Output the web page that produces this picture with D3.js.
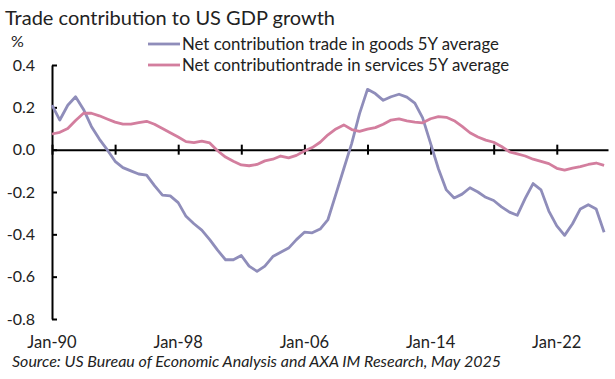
<!DOCTYPE html>
<html>
<head>
<meta charset="utf-8">
<script src="https://cdn.jsdelivr.net/npm/d3@7"></script>
<style>
  body { margin: 0; background: #fff; }
  svg { font-family: Lato, "Open Sans", sans-serif; }
</style>
</head>
<body>
<div id="chart"></div>
<script>
// half-yearly points, Jan-90 .. Jan-25
const startDate = new Date(1990, 0, 1);
const endDate = new Date(2025, 0, 1);

const goods = [
  0.21, 0.14, 0.21, 0.25, 0.19, 0.11, 0.05, 0.00, -0.055, -0.085,
  -0.10, -0.115, -0.12, -0.17, -0.215, -0.218, -0.25, -0.315, -0.35, -0.38,
  -0.425, -0.475, -0.52, -0.52, -0.50, -0.55, -0.575, -0.55, -0.505, -0.485,
  -0.465, -0.425, -0.39, -0.393, -0.375, -0.33, -0.21, -0.09, 0.03, 0.17,
  0.285, 0.265, 0.233, 0.25, 0.262, 0.248, 0.22, 0.15, 0.03, -0.09,
  -0.19, -0.228, -0.21, -0.18, -0.20, -0.225, -0.24, -0.27, -0.295, -0.31,
  -0.23, -0.16, -0.19, -0.29, -0.36, -0.405, -0.35, -0.28, -0.26, -0.28,
  -0.39
];

const services = [
  0.074, 0.082, 0.10, 0.138, 0.172, 0.172, 0.16, 0.145, 0.13, 0.121,
  0.121, 0.128, 0.134, 0.12, 0.10, 0.08, 0.06, 0.038, 0.033, 0.04,
  0.032, -0.005, -0.035, -0.055, -0.072, -0.076, -0.07, -0.053, -0.045, -0.03,
  -0.039, -0.027, -0.006, 0.01, 0.035, 0.07, 0.098, 0.117, 0.095, 0.086,
  0.097, 0.104, 0.12, 0.14, 0.145, 0.136, 0.13, 0.127, 0.146, 0.156,
  0.153, 0.137, 0.11, 0.08, 0.06, 0.045, 0.035, 0.015, -0.01, -0.02,
  -0.03, -0.045, -0.055, -0.066, -0.088, -0.097, -0.087, -0.08, -0.07, -0.063,
  -0.074
];

const seriesNames = [
  "Net contribution trade in goods 5Y average",
  "Net contributiontrade in services 5Y average"
];
const seriesColors = ["#8f8dba", "#d37e9e"];

const yTicks = [0.4, 0.2, 0.0, -0.2, -0.4, -0.6, -0.8];
const tickYears = [1990, 1994, 1998, 2002, 2006, 2010, 2014, 2018, 2022];
const labelYears = [1990, 1998, 2006, 2014, 2022];

const dates = d3.timeMonth.every(6).range(startDate, d3.timeMonth.offset(endDate, 1));

const width = 615, height = 379;
const svg = d3.select("#chart").append("svg")
  .attr("width", width).attr("height", height);

const x = d3.scaleTime()
  .domain([startDate, new Date(2025, 3, 1)])
  .range([52, 608]);
const y = d3.scaleLinear()
  .domain([-0.8, 0.4])
  .range([319, 65]);

// title
svg.append("text")
  .attr("x", 5).attr("y", 25)
  .attr("font-size", 20).attr("fill", "#222")
  .text("Trade contribution to US GDP growth");

svg.append("text")
  .attr("x", 11).attr("y", 47)
  .attr("font-size", 16).attr("fill", "#222")
  .text("%");

// y axis
const yAxis = svg.append("g")
  .attr("transform", "translate(52,0)")
  .call(d3.axisLeft(y).tickValues(yTicks).tickFormat(d => d.toFixed(1))
    .tickSizeInner(-5).tickSizeOuter(0).tickPadding(17));
yAxis.select(".domain").attr("stroke", "#000").attr("stroke-width", 2);
yAxis.selectAll(".tick line").attr("stroke", "#000").attr("stroke-width", 2);
yAxis.selectAll("text").attr("font-size", 16).attr("fill", "#222")
  .attr("font-family", "Lato, sans-serif");

// x axis on zero line
const xAxis = svg.append("g")
  .attr("transform", `translate(0,${y(0)})`)
  .call(d3.axisBottom(x).tickValues(tickYears.map(yr => new Date(yr, 0, 1)))
    .tickFormat("").tickSizeInner(5).tickSizeOuter(0));
xAxis.select(".domain").attr("stroke", "#000").attr("stroke-width", 2);
xAxis.selectAll(".tick line").attr("y1", -5).attr("y2", 5)
  .attr("stroke", "#000").attr("stroke-width", 2);

// x labels at the bottom
svg.append("g").selectAll("text")
  .data(labelYears).join("text")
  .attr("x", d => x(new Date(d, 0, 1)))
  .attr("y", 348)
  .attr("text-anchor", "middle")
  .attr("font-size", 16.5).attr("fill", "#222")
  .text(d => "Jan-" + String(d).slice(2));

// lines
const line = d3.line()
  .x((d, i) => x(dates[i]))
  .y(d => y(d));

[goods, services].forEach((s, k) => {
  svg.append("path")
    .datum(s)
    .attr("fill", "none")
    .attr("stroke", seriesColors[k])
    .attr("stroke-width", 2.8)
    .attr("stroke-linejoin", "round")
    .attr("d", line);
});

// legend
const legend = svg.append("g");
seriesNames.forEach((name, k) => {
  const ly = 44 + k * 21;
  legend.append("line")
    .attr("x1", 148).attr("x2", 180)
    .attr("y1", ly).attr("y2", ly)
    .attr("stroke", seriesColors[k]).attr("stroke-width", 2.8);
  legend.append("text")
    .attr("x", 182).attr("y", ly + 6)
    .attr("font-size", 16.8).attr("fill", "#222")
    .text(name);
});

// source
svg.append("text")
  .attr("x", 12).attr("y", 367)
  .attr("font-size", 16).attr("font-style", "italic").attr("fill", "#222")
  .text("Source: US Bureau of Economic Analysis and AXA IM Research, May 2025");
</script>
</body>
</html>
